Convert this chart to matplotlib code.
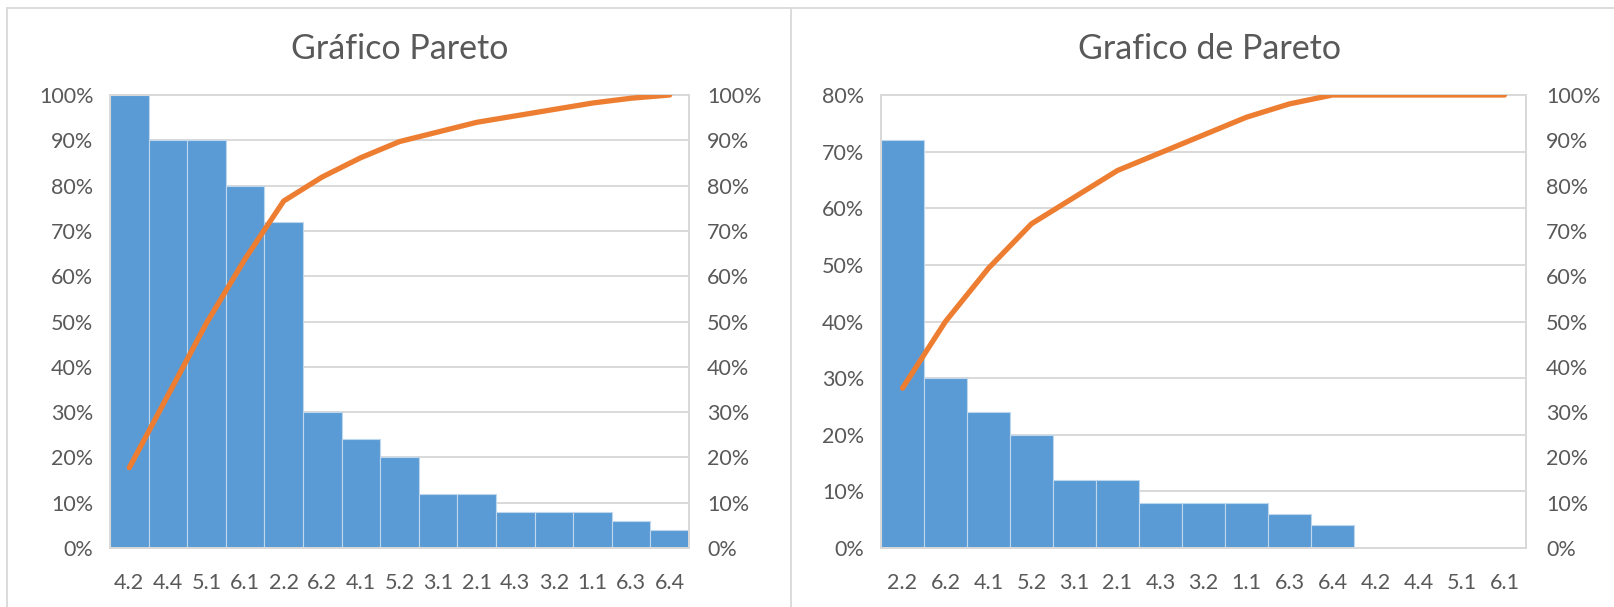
import numpy as np
import matplotlib
matplotlib.use("Agg")
import matplotlib.pyplot as plt
from matplotlib.lines import Line2D
from matplotlib.ticker import MultipleLocator, PercentFormatter

plt.rcParams['font.family'] = ['Lato', 'DejaVu Sans']

# Left chart: all defect codes
left_title = "Gráfico Pareto"
left_codes = ["4.2", "4.4", "5.1", "6.1", "2.2", "6.2", "4.1", "5.2",
              "3.1", "2.1", "4.3", "3.2", "1.1", "6.3", "6.4"]
left_values = [100, 90, 90, 80, 72, 30, 24, 20, 12, 12, 8, 8, 8, 6, 4]

# Right chart: same codes, re-ordered
right_title = "Grafico de Pareto"
right_codes = ["2.2", "6.2", "4.1", "5.2", "3.1", "2.1", "4.3", "3.2",
               "1.1", "6.3", "6.4", "4.2", "4.4", "5.1", "6.1"]
right_values = [72, 30, 24, 20, 12, 12, 8, 8, 8, 6, 4, 0, 0, 0, 0]

BAR = "#5B9BD5"
LINE = "#ED7D31"
GRID = "#D9D9D9"
TXT = "#595959"
FS = 15.5

W, H = 1615, 607
fig = plt.figure(figsize=(W / 100, H / 100), dpi=100)


def px_axes(x0, x1, y0, y1):
    return fig.add_axes([x0 / W, 1 - y1 / H, (x1 - x0) / W, (y1 - y0) / H])


def pareto(ax, codes, values, ymax, left_pad, right_pad):
    x = np.arange(len(codes))
    vals = np.asarray(values, dtype=float)
    ax.bar(x, vals, width=1.0, color=BAR, edgecolor="#BDD7EE",
           linewidth=0.8, zorder=2)
    ax.set_xlim(-0.5, len(codes) - 0.5)
    ax.set_ylim(0, ymax)
    ax.yaxis.set_major_locator(MultipleLocator(10))
    ax.yaxis.set_major_formatter(PercentFormatter(decimals=0))
    ax.grid(axis="y", color=GRID, linewidth=1.4, zorder=0)
    ax.set_axisbelow(True)
    ax.set_xticks(x)
    ax.set_xticklabels(codes)
    ax.tick_params(axis="x", length=0, pad=18, labelsize=FS, labelcolor=TXT)
    ax.tick_params(axis="y", length=0, pad=left_pad, labelsize=FS, labelcolor=TXT)
    for s in ax.spines.values():
        s.set_color(GRID)
        s.set_linewidth(1.4)

    cum = np.cumsum(vals) / vals.sum() * 100
    tw = ax.twinx()
    tw.plot(x, cum, color=LINE, linewidth=3.8, solid_capstyle="round",
            solid_joinstyle="round", zorder=3)
    tw.set_ylim(0, 100)
    tw.yaxis.set_major_locator(MultipleLocator(10))
    tw.yaxis.set_major_formatter(PercentFormatter(decimals=0))
    tw.tick_params(axis="y", length=0, pad=right_pad, labelsize=FS, labelcolor=TXT)
    for s in tw.spines.values():
        s.set_color(GRID)
        s.set_linewidth(1.4)
    return tw


ax1 = px_axes(110, 689, 95, 548)
pareto(ax1, left_codes, left_values, 100, 12, 13)
ax2 = px_axes(881, 1526, 95, 548)
pareto(ax2, right_codes, right_values, 80, 12, 14.5)

fig.text(400 / W, 1 - 59 / H, left_title, ha="center", va="baseline",
         fontsize=24.5, color=TXT)
fig.text(1210 / W, 1 - 59 / H, right_title, ha="center", va="baseline",
         fontsize=24.5, color=TXT)

# chart-area borders
for xs, ys in [((7, W), (8, 8)), ((7, 7), (8, H)), ((791, 791), (8, H))]:
    fig.add_artist(Line2D([v / W for v in xs], [1 - v / H for v in ys],
                          color=GRID, linewidth=1.3))

fig.savefig("out.png", dpi=100)
